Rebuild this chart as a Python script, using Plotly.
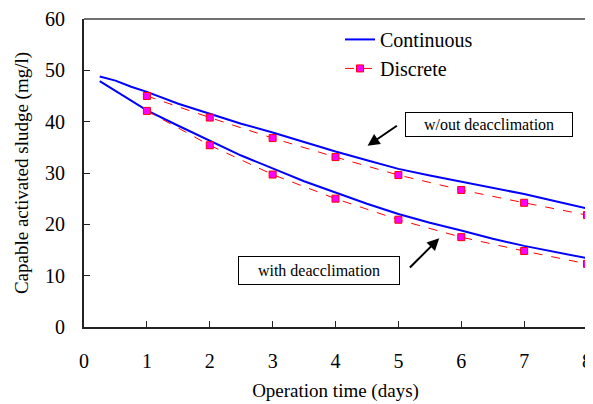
import plotly.graph_objects as go

# Continuous model curves
cont_x = [0.25, 0.5, 0.75, 1, 1.5, 2, 2.5, 3, 3.5, 4, 4.5, 5, 5.5, 6, 6.5, 7, 7.5, 8]
cont_wout = [48.8, 48.0, 46.8, 45.8, 43.5, 41.5, 39.6, 37.9, 36.0, 34.2, 32.5, 30.8, 29.5, 28.3, 27.0, 25.9, 24.5, 23.1]
cont_with = [47.9, 46.0, 44.0, 42.2, 39.2, 36.3, 33.4, 30.9, 28.4, 26.2, 24.0, 22.0, 20.3, 18.8, 17.2, 15.8, 14.6, 13.4]

# Discrete model points
disc_x = [1, 2, 3, 4, 5, 6, 7, 8]
disc_wout = [45.0, 40.8, 36.8, 33.1, 29.6, 26.7, 24.2, 21.8]
disc_with = [42.1, 35.4, 29.7, 25.0, 20.9, 17.5, 14.8, 12.3]

x_ticks = [0, 1, 2, 3, 4, 5, 6, 7, 8]
y_ticks = [0, 10, 20, 30, 40, 50, 60]

FONT = "Liberation Serif, Times New Roman, serif"

fig = go.Figure()
fig.add_trace(go.Scatter(x=cont_x, y=cont_wout, mode="lines", name="Continuous",
                         line=dict(color="#0000FF", width=2), cliponaxis=False))
fig.add_trace(go.Scatter(x=cont_x, y=cont_with, mode="lines", name="Continuous",
                         line=dict(color="#0000FF", width=2), showlegend=False, cliponaxis=False))
fig.add_trace(go.Scatter(x=disc_x, y=disc_wout, mode="lines+markers", name="Discrete",
                         line=dict(color="#FF0000", width=1, dash="dash"),
                         marker=dict(symbol="square", size=7, color="#FF00FF",
                                     line=dict(color="#FF0000", width=1)), cliponaxis=False))
fig.add_trace(go.Scatter(x=disc_x, y=disc_with, mode="lines+markers", name="Discrete",
                         line=dict(color="#FF0000", width=1, dash="dash"),
                         marker=dict(symbol="square", size=7, color="#FF00FF",
                                     line=dict(color="#FF0000", width=1)),
                         showlegend=False, cliponaxis=False))

# Annotations with boxes and arrows
fig.add_annotation(x=6.44, y=39.5, xanchor="center", yanchor="middle",
                   text="w/out deacclimation", showarrow=False,
                   font=dict(family=FONT, size=16, color="black"),
                   bordercolor="black", borderwidth=1, borderpad=3, width=160)
fig.add_annotation(x=4.51, y=35.3, ax=5.0, ay=39.4, axref="x", ayref="y",
                   text="", showarrow=True, arrowhead=2, arrowsize=1.2, arrowwidth=2, arrowcolor="black")
fig.add_annotation(x=3.74, y=11.0, xanchor="center", yanchor="middle",
                   text="with deacclimation", showarrow=False,
                   font=dict(family=FONT, size=16, color="black"),
                   bordercolor="black", borderwidth=1, borderpad=5, width=150)
fig.add_annotation(x=5.65, y=17.3, ax=5.16, ay=11.3, axref="x", ayref="y",
                   text="", showarrow=True, arrowhead=2, arrowsize=1.2, arrowwidth=2, arrowcolor="black")

# gray top/right frame lines
fig.add_shape(type="line", xref="paper", yref="paper", x0=0, x1=1, y0=1, y1=1,
              line=dict(color="#707070", width=2))
fig.add_shape(type="line", xref="paper", yref="paper", x0=1, x1=1, y0=0, y1=1,
              line=dict(color="#707070", width=2))

# The page body adds an 8px margin, so the figure is sized 8px smaller
fig.update_layout(
    width=585, height=396,
    margin=dict(l=76, r=6, t=11, b=77),
    plot_bgcolor="white", paper_bgcolor="white",
    font=dict(family=FONT, size=20, color="black"),
    legend=dict(x=0.509, y=0.997, xanchor="left", yanchor="top",
                bgcolor="rgba(0,0,0,0)", font=dict(family=FONT, size=20)),
    xaxis=dict(range=[0, 8], tickvals=x_ticks, ticks="inside", ticklen=6, tickcolor="#222",
               showgrid=False, zeroline=False, showline=True, linecolor="#222", linewidth=2,
               automargin=False, ticklabelstandoff=15, ticklabeloverflow="allow",
               title=dict(text="Operation time (days)", standoff=13, font=dict(size=19)),
               tickfont=dict(size=20)),
    yaxis=dict(range=[0, 60], tickvals=y_ticks, ticks="inside", ticklen=6, tickcolor="#222",
               showgrid=False, zeroline=False, showline=True, linecolor="#222", linewidth=2,
               automargin=False, ticklabelstandoff=13, ticklabeloverflow="allow",
               title=dict(text="Capable activated sludge (mg/l)", standoff=11, font=dict(size=19)),
               tickfont=dict(size=20)),
)

fig.write_html("out.html")
